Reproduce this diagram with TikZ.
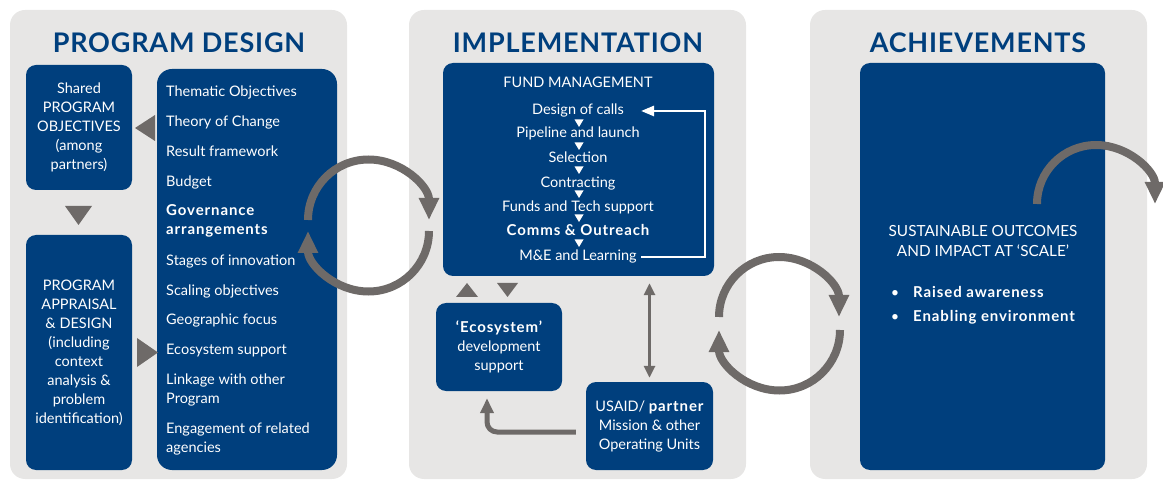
\documentclass[tikz,border=0pt]{standalone}
\usepackage{fontspec}
\setmainfont{Lato}
\usetikzlibrary{arrows.meta,calc,positioning}
\definecolor{navy}{RGB}{0,63,125}
\definecolor{panelgray}{RGB}{231,230,229}
\definecolor{loopgray}{RGB}{110,106,104}
\newcommand{\boldwide}[1]{{\fontsize{15}{19}\selectfont\bfseries\addfontfeatures{LetterSpace=6}#1}}
\tikzset{>=latex}
\tikzstyle{panel}=[fill=panelgray,rounded corners=15pt]
\tikzstyle{box}=[rectangle,fill=navy,rounded corners=10pt,text=white,align=center,font=\fontsize{14.5}{19}\selectfont]
\tikzstyle{item}=[text=white,align=left,font=\fontsize{14.5}{19}\selectfont]
\tikzstyle{title}=[text=navy,font=\fontsize{27}{30}\selectfont\bfseries\addfontfeatures{LetterSpace=3}]
\tikzstyle{tri}=[fill=loopgray]
\tikzstyle{loop}=[draw=loopgray,line width=8pt,-{Triangle[length=22pt,width=19pt]}]
\tikzstyle{dbl}=[draw=loopgray,line width=3pt,{Triangle[length=12pt,width=11pt]}-{Triangle[length=12pt,width=11pt]}]
\tikzstyle{elbow}=[draw=loopgray,line width=5pt,rounded corners=10pt,-{Triangle[length=15pt,width=13pt]}]
\tikzstyle{fb}=[draw=white,line width=2.5pt,-{Triangle[length=13pt,width=10pt]}]

\begin{document}
\begin{tikzpicture}[x=1pt,y=-1pt,inner sep=0pt]
    \useasboundingbox (0,0) rectangle (1163,481);
    \fill[panel] (10,10) rectangle (347,479);
    \fill[panel] (409,10) rectangle (746,479);
    \fill[panel] (810,10) rectangle (1147,479);

    \node[title] (tdesign) at (179,43) {PROGRAM DESIGN};
    \node[title] (timpl) at (578,43) {IMPLEMENTATION};
    \node[title] (tach) at (978,43) {ACHIEVEMENTS};

    % program design
    \node[box,minimum width=106pt,minimum height=125pt] (shared) at (79,127.5) {Shared\\PROGRAM\\OBJECTIVES\\(among\\partners)};
    \node[box,minimum width=106pt,minimum height=235pt] (appraisal) at (79,352.5) {PROGRAM\\APPRAISAL\\\& DESIGN\\(including\\context\\analysis \&\\problem\\identification)};
    \node[box,rounded corners=15pt,minimum width=180pt,minimum height=401pt] (design) at (247,269.5) {};
    \foreach \y/\t in {97/Thematic Objectives,127/Theory of Change,157/Result framework,187/Budget,266/Stages of innovation,296/Scaling objectives,325/Geographic focus,355/Ecosystem support} {
        \node[item,anchor=base west] (d\y) at (166,\y) {\t};
    };
    \node[item,anchor=west] (gov) at (166,221) {\boldwide{Governance}\\\boldwide{arrangements}};
    \node[item,anchor=west] (link) at (166,389.5) {Linkage with other\\Program};
    \node[item,anchor=west] (engage) at (166,438.5) {Engagement of related\\agencies};

    \fill[tri] (135,128) -- (155,115) -- (155,141) -- cycle;
    \fill[tri] (65,206) -- (92,206) -- (78.5,225) -- cycle;
    \fill[tri] (158,352.5) -- (137,338) -- (137,367) -- cycle;

    % implementation
    \node[box,minimum width=271pt,minimum height=213pt] (fund) at (578.5,169.5) {};
    \foreach \i/\y/\t in {0/88/FUND MANAGEMENT,1/115/Design of calls,2/138/Pipeline and launch,3/163/Selection,4/188/Contracting,5/212/Funds and Tech support,6/236/\boldwide{Comms \& Outreach},7/261/M\&E and Learning} {
        \node[item,anchor=base] (f\i) at (578,\y) {\t};
    };
    \foreach \y in {123,146,170,194,218,243} {
        \fill[white] (574.5,\y-3.5) -- (583.5,\y-3.5) -- (579,\y+4) -- cycle;
    };
    \coordinate (fbx) at (641,0);
    \coordinate (fbr) at (705,0);
    \draw[fb] (f7.east -| fbx) -- (f7.east -| fbr) -- (f1.east -| fbr) -- (f1.east -| fbx);

    \node[box,minimum width=126pt,minimum height=88pt] (eco) at (499,347) {\boldwide{‘Ecosystem’}\\development\\support};
    \node[box,minimum width=127pt,minimum height=88pt] (usaid) at (649.5,426) {USAID/ \boldwide{partner}\\Mission \& other\\Operating Units};

    \fill[tri] (456,297) -- (478,297) -- (467,283) -- cycle;
    \fill[tri] (497,283) -- (518,283) -- (507.5,297) -- cycle;
    \draw[dbl,shorten <=7pt,shorten >=4pt] (fund.south -| usaid.north) -- (usaid.north);
    \draw[elbow] ([xshift=-10pt,yshift=-6pt]usaid.west) -| ([xshift=-12pt,yshift=-7pt]eco.south);

    % achievements
    \node[box,minimum width=245pt,minimum height=407pt] (outcome) at (982.5,266.5) {};
    \node[item,anchor=base,font=\fontsize{15.3}{19}\selectfont] (sus) at (983,237) {SUSTAINABLE OUTCOMES};
    \node[item,anchor=base,font=\fontsize{15.3}{19}\selectfont] (imp) at (983,257) {AND IMPACT AT ‘SCALE’};
    \node[item,anchor=base] (b1) at (895,298) {\textbullet};
    \node[item,anchor=base west] (raised) at (913,298) {\boldwide{Raised awareness}};
    \node[item,anchor=base] (b2) at (895,322) {\textbullet};
    \node[item,anchor=base west] (enabling) at (913,322) {\boldwide{Enabling environment}};

    % loops
    \draw[loop] (308,220) arc[start angle=180,end angle=360,radius=60.5];
    \draw[loop] (429,231) arc[start angle=0,end angle=180,radius=60.5];
    \draw[loop] (719,317) arc[start angle=180,end angle=360,radius=60];
    \draw[loop] (840,330) arc[start angle=0,end angle=180,radius=60.5];
    \draw[loop] (1037,204) arc[start angle=180,end angle=360,radius=59];
\end{tikzpicture}
\end{document}
